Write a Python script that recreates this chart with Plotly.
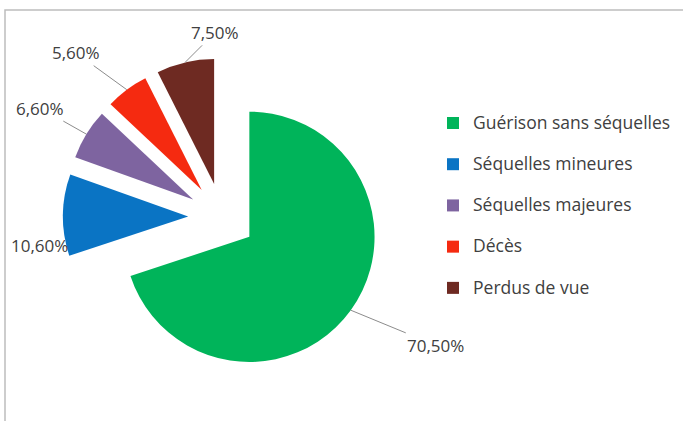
import math
import plotly.graph_objects as go

categories = ["Guérison sans séquelles", "Séquelles mineures", "Séquelles majeures", "Décès", "Perdus de vue"]
values = [70.5, 10.6, 6.6, 5.6, 7.5]
colors = ["#00B45A", "#0A74C4", "#7E64A0", "#F52A10", "#6E2A22"]

# label placement (pixel offsets of the label from the slice's outer edge)
label_dx = [85, -23, -46, -51, 30]
label_dy = [35, 30, -26, -37, -30]
label_leader = [True, False, True, True, True]

W, H = 683, 421
PULL = 0.27
dom_x = [0.0922, 0.5578]
dom_y = [0.1069, 0.8622]

fig = go.Figure(go.Pie(
    labels=["<span style='font-size:17.5px'>" + c + "</span><br> " for c in categories],
    values=values,
    sort=False,
    direction="clockwise",
    rotation=0,
    pull=[PULL] * len(values),
    marker=dict(colors=colors, line=dict(width=0)),
    textinfo="none",
    domain=dict(x=dom_x, y=dom_y),
    showlegend=True,
    hovertext=categories,
    hoverinfo="text+percent",
))

# geometry of the pie as plotly lays it out (margins are zero)
cx = W * (dom_x[0] + dom_x[1]) / 2
cy = H * (1 - (dom_y[0] + dom_y[1]) / 2)
r = min(W * (dom_x[1] - dom_x[0]), H * (dom_y[1] - dom_y[0])) / (2 + 2 * PULL)
total = sum(values)
annotations = []
cum = 0.0
for v, dx, dy, lead in zip(values, label_dx, label_dy, label_leader):
    mid = (cum + v / 2) / total * 2 * math.pi
    cum += v
    dist = r * (1 + PULL)
    px = cx + dist * math.sin(mid)
    py = cy - dist * math.cos(mid)
    annotations.append(dict(
        xref="paper", yref="paper", x=px / W, y=1 - py / H,
        xanchor="center", yanchor="middle",
        text=f"{v:.2f}%".replace(".", ","),
        showarrow=lead, arrowhead=0, arrowwidth=1, arrowcolor="#8C8C8C",
        ax=dx, ay=dy, standoff=0,
        xshift=0 if lead else dx, yshift=0 if lead else -dy,
        font=dict(family="Open Sans", size=17, color="#404040"),
    ))

fig.update_layout(
    width=W, height=H,
    margin=dict(l=0, r=0, t=0, b=0, autoexpand=False),
    paper_bgcolor="white",
    font=dict(family="Open Sans", color="#404040"),
    legend=dict(
        x=0.634, y=0.746, xanchor="left", yanchor="top",
        font=dict(family="Open Sans", size=14.7, color="#404040"),
        valign="top",
        itemwidth=30,
    ),
    annotations=annotations,
    shapes=[dict(type="rect", xref="paper", yref="paper",
                 x0=5 / W, x1=1.02, y0=-0.02, y1=1 - 10 / H,
                 line=dict(color="#BDBDBD", width=1.5), fillcolor="rgba(0,0,0,0)")],
)

fig.write_html("out.html")
